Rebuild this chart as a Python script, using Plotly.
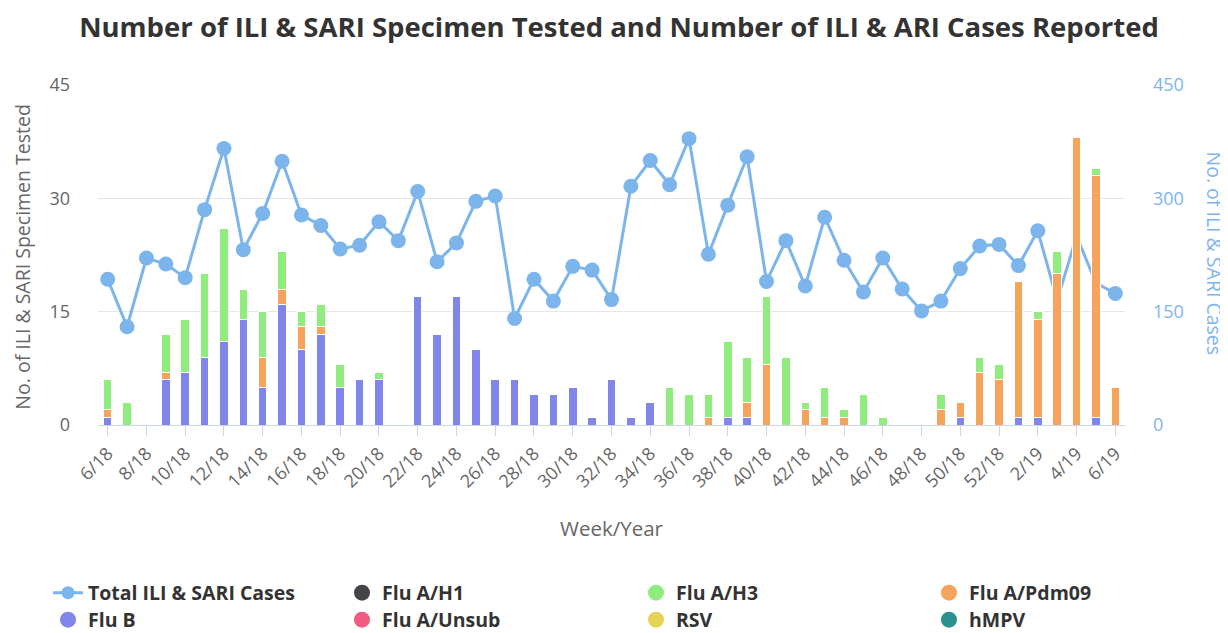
import plotly.graph_objects as go

weeks = [f"{w}/18" for w in range(6, 53)] + [f"{w}/19" for w in range(1, 7)]

flu_b = [1, 0, 0, 6, 7, 9, 11, 14, 5, 16, 10, 12, 5, 6, 6, 0, 17, 12, 17, 10,
         6, 6, 4, 4, 5, 1, 6, 1, 3, 0, 0, 0, 1, 1, 0, 0, 0, 0, 0, 0,
         0, 0, 0, 0, 1, 0, 0, 1, 1, 0, 0, 1, 0]
flu_pdm09 = [1, 0, 0, 1, 0, 0, 0, 0, 4, 2, 3, 1, 0, 0, 0, 0, 0, 0, 0, 0,
             0, 0, 0, 0, 0, 0, 0, 0, 0, 0, 0, 1, 0, 2, 8, 0, 2, 1, 1, 0,
             0, 0, 0, 2, 2, 7, 6, 18, 13, 20, 38, 32, 5]
flu_h3 = [4, 3, 0, 5, 7, 11, 15, 4, 6, 5, 2, 3, 3, 0, 1, 0, 0, 0, 0, 0,
          0, 0, 0, 0, 0, 0, 0, 0, 0, 5, 4, 3, 10, 6, 9, 9, 1, 4, 1, 4,
          1, 0, 0, 2, 0, 2, 2, 0, 1, 3, 0, 1, 0]
flu_h1 = [0] * 53
flu_unsub = [0] * 53
rsv = [0] * 53
hmpv = [0] * 53

total_cases = [193, 130, 221, 213, 195, 285, 366, 232, 280, 349, 278, 264, 233, 238, 269,
               244, 309, 216, 241, 296, 303, 141, 193, 164, 210, 205, 166, 316, 350, 318,
               379, 226, 291, 355, 190, 244, 184, 275, 218, 176, 221, 180, 151, 164, 207,
               237, 239, 211, 257, 165, 250, 188, 174]

left_ticks = [0, 15, 30, 45]
right_ticks = [0, 150, 300, 450]

C_LINE = "#7cb5ec"
C_H1 = "#434348"
C_H3 = "#90ed7d"
C_PDM = "#f7a35c"
C_B = "#8085e9"
C_UNSUB = "#f15c80"
C_RSV = "#e4d354"
C_HMPV = "#2b908f"

FONT = "Open Sans"
OFF = 8  # page body margin
W, H = 1228 - OFF, 633 - OFF
PL, PR, PT, PB = 98, 1125, 85, 425          # plot box in page pixels
L, R, T, B = PL - OFF, W - (PR - OFF), PT - OFF, H - (PB - OFF)
PW, PH = W - L - R, H - T - B


def px(xp):
    return (xp - PL) / PW


def py(yp):
    return (PB - yp) / PH


fig = go.Figure()

# markers hidden behind the tall bars in the reference (weeks 3/19 - 5/19)
marker_sizes = [15] * len(weeks)
for i in (49, 50, 51):
    marker_sizes[i] = 0

# line on primary axis (drawn underneath the bars)
fig.add_trace(go.Scatter(
    x=weeks, y=total_cases, mode="lines+markers", name="Total ILI & SARI Cases",
    line=dict(color=C_LINE, width=3),
    marker=dict(color=C_LINE, size=marker_sizes, opacity=1, line=dict(width=0)),
    xaxis="x", yaxis="y", legend="legend", showlegend=False,
))
fig.add_trace(go.Scatter(
    x=[None], y=[None], mode="lines+markers", name="Total ILI & SARI Cases",
    line=dict(color=C_LINE, width=3), marker=dict(color=C_LINE, size=13),
    xaxis="x", yaxis="y", legend="legend", showlegend=True,
))

bar_series = [
    ("Flu B", flu_b, C_B, "legend5"),
    ("Flu A/Pdm09", flu_pdm09, C_PDM, "legend4"),
    ("Flu A/H3", flu_h3, C_H3, "legend3"),
    ("Flu A/H1", flu_h1, C_H1, "legend2"),
    ("Flu A/Unsub", flu_unsub, C_UNSUB, "legend6"),
    ("RSV", rsv, C_RSV, "legend7"),
    ("hMPV", hmpv, C_HMPV, "legend8"),
]
for name, vals, col, leg in bar_series:
    has = any(v > 0 for v in vals)
    fig.add_trace(go.Bar(
        x=weeks, y=vals, name=name,
        marker=dict(color=col, line=dict(color="white", width=1 if has else 0)),
        xaxis="x", yaxis="y2", showlegend=False, legendgroup=name,
    ))
    fig.add_trace(go.Scatter(
        x=[None], y=[None], mode="markers", name=name, legendgroup=name,
        marker=dict(color=col, size=17, symbol="circle"),
        xaxis="x", yaxis="y2", legend=leg, showlegend=True,
    ))

legend_font = dict(family=FONT, size=19.5, color="#333333", weight="bold")
col_text_x = [89, 383, 677, 970]   # page px where legend text starts
row_y = [593, 620]                 # page px of legend row centres
legends = {}
for i in range(8):
    r, c = divmod(i, 4)
    key = "legend" if i == 0 else f"legend{i + 1}"
    legends[key] = dict(orientation="h", xref="container", yref="container",
                        x=(col_text_x[c] - 41 - OFF) / W, xanchor="left",
                        y=1 - (row_y[r] - OFF) / H, yanchor="middle",
                        font=legend_font, bgcolor="rgba(0,0,0,0)")

fig.update_layout(
    width=W, height=H,
    margin=dict(l=L, r=R, t=T, b=B, autoexpand=False),
    paper_bgcolor="white", plot_bgcolor="white",
    barmode="stack", bargap=0.56,
    font=dict(family=FONT, color="#666666"),
    title=dict(text="Number of ILI & SARI Specimen Tested and Number of ILI & ARI Cases Reported",
               x=(619 - OFF) / W, xref="container", xanchor="center",
               y=1 - (27 - OFF) / H, yref="container", yanchor="middle",
               font=dict(family=FONT, size=27.5, color="#333333", weight="bold")),
    xaxis=dict(type="category", categoryorder="array", categoryarray=weeks,
               tickmode="array", tickvals=weeks[::2], ticktext=weeks[::2],
               tickangle=-45, tickfont=dict(size=18, color="#666666"),
               ticks="outside", ticklen=10, tickcolor="#ccd6eb",
               showline=True, linecolor="#ccd6eb", linewidth=1,
               showgrid=False, zeroline=False, range=[-0.5, 52.5], automargin=False),
    yaxis=dict(side="right", range=[0, 450], tickmode="array", tickvals=right_ticks,
               tickfont=dict(size=18, color=C_LINE), ticklabelstandoff=27,
               showgrid=True, gridcolor="#e6e6e6", gridwidth=1, zeroline=False,
               showline=False, automargin=False),
    yaxis2=dict(side="left", overlaying="y", range=[0, 45], tickmode="array", tickvals=left_ticks,
                tickfont=dict(size=18, color="#666666"), ticklabelstandoff=27,
                showgrid=False, zeroline=False, showline=False, automargin=False),
    annotations=[
        dict(text="No. of ILI & SARI Specimen Tested", textangle=-90, xref="paper", yref="paper",
             x=px(23), y=py(256.7), xanchor="center", yanchor="middle",
             showarrow=False, font=dict(family=FONT, size=19.5, color="#666666")),
        dict(text="No. of ILI & SARI Cases", textangle=90, xref="paper", yref="paper",
             x=px(1214), y=py(253.5), xanchor="center", yanchor="middle",
             showarrow=False, font=dict(family=FONT, size=19.5, color=C_LINE)),
        dict(text="Week/Year", xref="paper", yref="paper",
             x=px(612), y=py(528), xanchor="center", yanchor="middle",
             showarrow=False, font=dict(family=FONT, size=20.5, color="#666666")),
    ],
    **legends,
)

fig.write_html("out.html")
